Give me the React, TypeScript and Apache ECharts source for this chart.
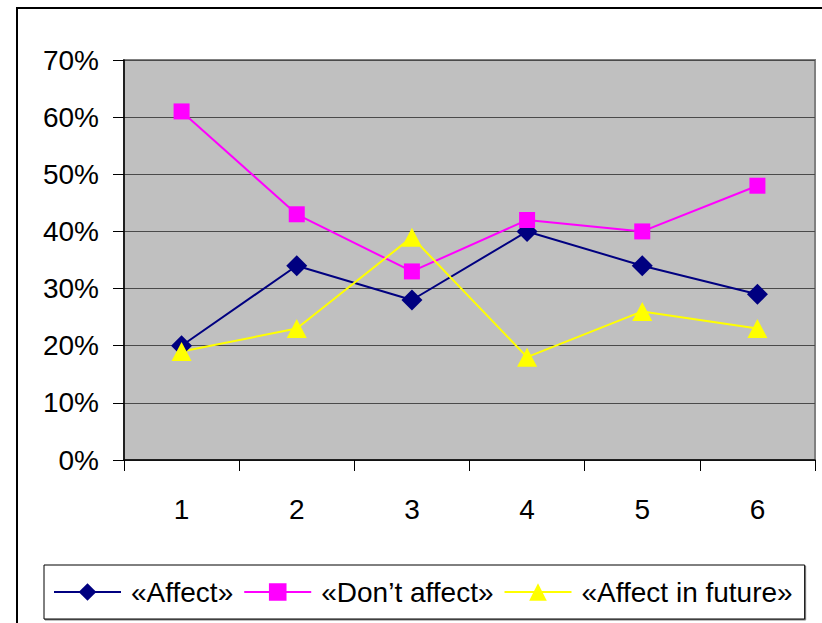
import React, { useEffect, useRef } from "react";
import * as echarts from "echarts";

const categories = ["1", "2", "3", "4", "5", "6"];
const affect = [20, 34, 28, 40, 34, 29];
const dontAffect = [61, 43, 33, 42, 40, 48];
const affectFuture = [19, 23, 39, 18, 26, 23];
const seriesNames = ["«Affect»", "«Don’t affect»", "«Affect in future»"];

const FONT = "'Liberation Sans', Arial, sans-serif";

export default function App() {
  const ref = useRef<HTMLDivElement>(null);
  useEffect(() => {
    if (!ref.current) return;
    const chart = echarts.init(ref.current, null, { renderer: "svg" });
    chart.setOption({
      animation: false,
      backgroundColor: "#ffffff",
      textStyle: { fontFamily: FONT },
      graphic: [
        {
          type: "rect",
          z: -10,
          shape: { x: 17, y: 8, width: 900, height: 800 },
          style: { fill: "none", stroke: "#000", lineWidth: 2 },
          silent: true,
        },
      ],
      grid: {
        left: 124,
        top: 60,
        right: 7,
        bottom: 163,
        show: true,
        backgroundColor: "#C0C0C0",
        borderColor: "#808080",
        borderWidth: 2,
      },
      legend: {
        left: 44,
        top: 565,
        padding: [13, 12, 13, 9],
        itemGap: 10,
        itemWidth: 67,
        itemHeight: 22,
        borderColor: "#000",
        borderWidth: 1,
        backgroundColor: "#fff",
        shadowColor: "rgba(0,0,0,0.5)",
        shadowOffsetX: 1,
        shadowOffsetY: 1,
        textStyle: {
          fontFamily: FONT,
          fontSize: 28,
          color: "#000",
          padding: [0, 0, 0, 5],
        },
        data: seriesNames,
      },
      xAxis: {
        type: "category",
        data: categories,
        boundaryGap: true,
        axisLine: { show: true, lineStyle: { color: "#000", width: 1.5 } },
        axisTick: { show: true, length: 11, lineStyle: { color: "#000", width: 1 } },
        axisLabel: { fontFamily: FONT, fontSize: 28, color: "#000", margin: 35 },
        splitLine: { show: false },
      },
      yAxis: {
        type: "value",
        min: 0,
        max: 70,
        interval: 10,
        axisLine: { show: true, lineStyle: { color: "#000", width: 1.5 } },
        axisTick: { show: true, length: 11, lineStyle: { color: "#000", width: 1 } },
        axisLabel: {
          fontFamily: FONT,
          fontSize: 28,
          color: "#000",
          margin: 25,
          formatter: "{value}%",
        },
        splitLine: { show: true, lineStyle: { color: "#4a4a4a", width: 1 } },
      },
      series: [
        {
          name: seriesNames[0],
          type: "line",
          data: affect,
          symbol: "diamond",
          symbolSize: 21,
          lineStyle: { color: "#000080", width: 2 },
          itemStyle: { color: "#000080" },
        },
        {
          name: seriesNames[1],
          type: "line",
          data: dontAffect,
          symbol: "rect",
          symbolSize: 16,
          lineStyle: { color: "#FF00FF", width: 2 },
          itemStyle: { color: "#FF00FF" },
        },
        {
          name: seriesNames[2],
          type: "line",
          data: affectFuture,
          symbol: "triangle",
          symbolSize: [20, 19],
          lineStyle: { color: "#FFFF00", width: 2 },
          itemStyle: { color: "#FFFF00" },
        },
      ],
    });
    return () => chart.dispose();
  }, []);
  return (
    <div
      ref={ref}
      style={{ position: "fixed", left: 0, top: 0, width: 822, height: 623 }}
    />
  );
}
